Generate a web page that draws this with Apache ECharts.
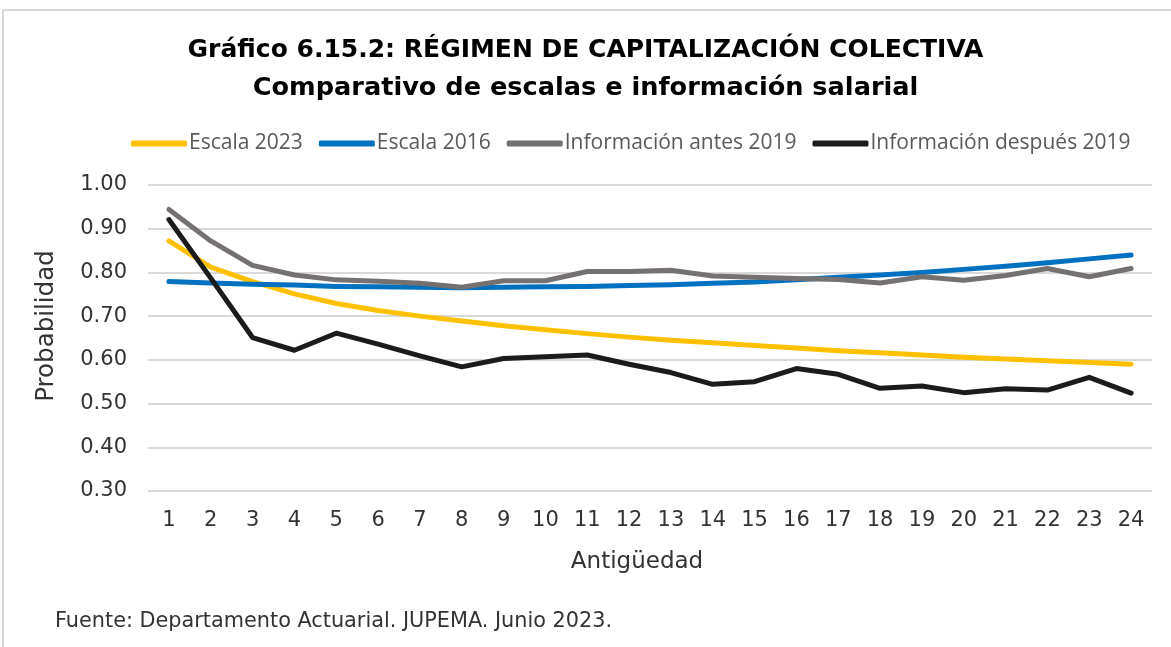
<!DOCTYPE html>
<html>
<head>
<meta charset="utf-8">
<script src="https://cdn.jsdelivr.net/npm/echarts@6/dist/echarts.min.js"></script>
<style>
  html, body { margin: 0; padding: 0; background: #fff; }
  #chart { width: 1171px; height: 647px; }
</style>
</head>
<body>
<div id="chart"></div>
<script>
// datos
const antiguedad = ['1','2','3','4','5','6','7','8','9','10','11','12','13','14','15','16','17','18','19','20','21','22','23','24'];
const escala2023 = [0.872,0.812,0.779,0.751,0.729,0.713,0.700,0.689,0.678,0.669,0.660,0.652,0.645,0.639,0.633,0.627,0.621,0.616,0.611,0.606,0.602,0.598,0.594,0.590];
const escala2016 = [0.779,0.776,0.773,0.771,0.768,0.767,0.766,0.765,0.766,0.767,0.768,0.770,0.772,0.775,0.778,0.783,0.789,0.794,0.800,0.807,0.814,0.822,0.831,0.840];
const infoAntes2019 = [0.944,0.872,0.816,0.794,0.783,0.780,0.775,0.766,0.781,0.781,0.802,0.802,0.805,0.792,0.789,0.786,0.784,0.776,0.790,0.782,0.793,0.809,0.790,0.809];
const infoDespues2019 = [0.921,0.787,0.651,0.622,0.661,0.636,0.609,0.584,0.603,0.607,0.611,0.590,0.571,0.544,0.550,0.580,0.567,0.535,0.540,0.525,0.534,0.531,0.560,0.524];
const yMin = 0.3, yMax = 1.0, yStep = 0.1;

const font = '"DejaVu Sans", sans-serif';
const textColor = '#333';
const chart = echarts.init(document.getElementById('chart'));

function serie(name, data, color) {
  return {
    name: name,
    type: 'line',
    data: data,
    showSymbol: false,
    symbol: 'none',
    lineStyle: { color: color, width: 5, cap: 'round', join: 'round' },
    itemStyle: { color: color },
    emphasis: { disabled: true }
  };
}

const option = {
  backgroundColor: '#fff',
  animation: false,
  title: {
    text: 'Gráfico 6.15.2: RÉGIMEN DE CAPITALIZACIÓN COLECTIVA',
    subtext: 'Comparativo de escalas e información salarial',
    left: 'center',
    top: 33,
    itemGap: 12,
    textStyle: { fontFamily: font, fontSize: 25, fontWeight: 'bold', color: '#000' },
    subtextStyle: { fontFamily: font, fontSize: 25.6, fontWeight: 'bold', color: '#000' }
  },
  legend: {
    top: 128,
    left: 126,
    itemWidth: 56,
    itemHeight: 6,
    itemGap: 16,
    icon: 'roundRect',
    textStyle: { fontFamily: '"Open Sans", sans-serif', fontSize: 21, color: '#595959', padding: [0, 0, 0, -3] },
    data: ['Escala 2023', 'Escala 2016', 'Información antes 2019', 'Información después 2019']
  },
  grid: { left: 148, right: 19, top: 185, bottom: 156 },
  xAxis: {
    type: 'category',
    data: antiguedad,
    boundaryGap: true,
    axisLine: { show: false },
    axisTick: { show: false },
    axisLabel: { fontFamily: font, fontSize: 21, color: textColor, margin: 19 },
    name: 'Antigüedad',
    nameLocation: 'middle',
    nameGap: 60,
    nameTextStyle: { fontFamily: font, fontSize: 23, color: textColor, padding: [0, 26, 0, 0] }
  },
  yAxis: {
    type: 'value',
    min: yMin,
    max: yMax,
    interval: yStep,
    axisLine: { show: false },
    axisTick: { show: false },
    axisLabel: {
      fontFamily: font, fontSize: 21, color: textColor, margin: 21,
      formatter: v => v.toFixed(2)
    },
    splitLine: { lineStyle: { color: '#d9d9d9', width: 2 } },
    name: 'Probabilidad',
    nameLocation: 'middle',
    nameGap: 89,
    nameRotate: 90,
    nameTextStyle: { fontFamily: font, fontSize: 24.5, color: textColor, padding: [0, 0, 0, 24] }
  },
  graphic: [
    {
      type: 'rect',
      shape: { x: 3, y: 10, width: 1200, height: 700 },
      style: { fill: 'none', stroke: '#d9d9d9', lineWidth: 2 },
      silent: true
    },
    {
      type: 'text',
      left: 55,
      top: 611,
      style: {
        text: 'Fuente: Departamento Actuarial. JUPEMA. Junio 2023.',
        fontFamily: font,
        fontSize: 20.8,
        fill: textColor
      }
    }
  ],
  series: [
    serie('Escala 2023', escala2023, '#FFC000'),
    serie('Escala 2016', escala2016, '#0070C0'),
    serie('Información antes 2019', infoAntes2019, '#767171'),
    serie('Información después 2019', infoDespues2019, '#1b1b1b')
  ]
};
chart.setOption(option);
</script>
</body>
</html>
